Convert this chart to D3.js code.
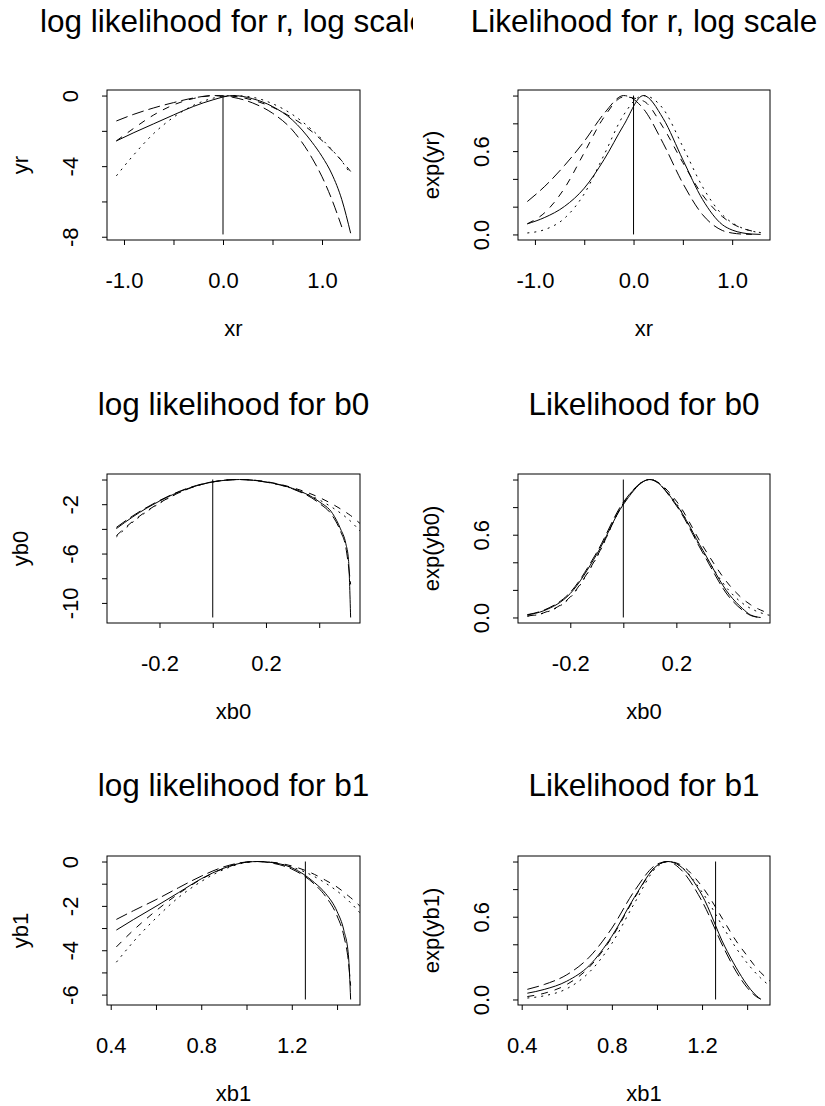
<!DOCTYPE html>
<html>
<head>
<meta charset="utf-8">
<script src="https://cdn.jsdelivr.net/npm/d3@7"></script>
<style>
  body { margin: 0; background: #fff; }
  svg { display: block; }
  text { font-family: "Liberation Sans", Arial, sans-serif; fill: #000; }
</style>
</head>
<body>
<svg id="chart" width="825" height="1106"></svg>
<script>
// ---- data: parameter r (log scale) ----
const xr = [-1.077, -0.9, -0.7, -0.5, -0.3, -0.1, 0.1, 0.3, 0.5, 0.7, 0.9, 1.0, 1.1, 1.2, 1.289];
const yr1 = [-2.57, -2.10, -1.60, -1.10, -0.62, -0.24, 0.0, -0.18, -0.62, -1.38, -2.65, -3.45, -4.45, -5.90, -7.80];
const yr2 = [-1.44, -1.06, -0.70, -0.40, -0.14, 0.0, -0.10, -0.42, -1.00, -1.95, -3.55, -4.60, -5.90, -7.45, null];
const yr3 = [-2.57, -1.85, -1.10, -0.53, -0.17, -0.01, -0.04, -0.26, -0.66, -1.26, -2.05, -2.55, -3.10, -3.70, -4.30];
const yr4 = [-4.55, -3.35, -2.15, -1.23, -0.56, -0.15, 0.0, -0.10, -0.46, -1.07, -1.95, -2.48, -3.07, -3.72, -4.45];

// ---- data: b0 ----
const xb0 = [-0.362, -0.3, -0.2, -0.1, 0.0, 0.1, 0.2, 0.3, 0.4, 0.45, 0.48, 0.5, 0.51, 0.518, 0.55, 0.58];
const yb01 = [-3.98, -3.02, -1.75, -0.78, -0.20, 0.0, -0.20, -0.72, -1.80, -2.75, -4.00, -5.20, -6.50, -11.18, null, null];
const yb02 = [-3.88, -2.94, -1.70, -0.75, -0.18, 0.0, -0.21, -0.76, -1.92, -2.95, -4.20, -5.50, -7.00, -8.50, null, null];
const yb03 = [-4.55, -3.38, -1.90, -0.82, -0.19, 0.0, -0.17, -0.66, -1.45, -2.00, -2.38, -2.65, -2.80, -2.92, -3.50, -4.05];
const yb04 = [-4.65, -3.45, -1.93, -0.83, -0.19, 0.0, -0.19, -0.74, -1.65, -2.28, -2.72, -3.05, -3.24, -3.38, -4.10, -4.75];

// ---- data: b1 ----
const xb1 = [0.425, 0.5, 0.6, 0.7, 0.8, 0.9, 1.0, 1.05, 1.1, 1.2, 1.3, 1.35, 1.4, 1.43, 1.45, 1.46, 1.5, 1.53];
const yb11 = [-3.09, -2.62, -2.02, -1.40, -0.78, -0.30, -0.03, 0.0, -0.03, -0.28, -0.95, -1.45, -2.25, -3.10, -4.20, -6.22, null, null];
const yb12 = [-2.61, -2.22, -1.72, -1.18, -0.66, -0.24, -0.02, 0.0, -0.05, -0.34, -1.02, -1.58, -2.45, -3.35, -4.50, -5.60, null, null];
const yb13 = [-3.85, -3.10, -2.22, -1.45, -0.80, -0.31, -0.03, 0.0, -0.02, -0.20, -0.58, -0.85, -1.15, -1.38, -1.55, -1.63, -2.00, -2.30];
const yb14 = [-4.54, -3.62, -2.55, -1.62, -0.90, -0.36, -0.04, 0.0, -0.03, -0.25, -0.68, -0.98, -1.33, -1.58, -1.76, -1.86, -2.30, -2.65];

// true values (vertical lines)
const trueVals = [0.0, 0.0, 1.26];

// axis limits (data ranges, R pads them by 4%)
const xrLim = [-1.077, 1.289], yrLim = [-7.87, 0];
const xb0Lim = [-0.362, 0.518], yb0Lim = [-11.18, 0];
const xb1Lim = [0.425, 1.46], yb1Lim = [-6.22, 0];
const likLim = [0, 1];

// ticks and tick labels
const xrTicks = [-1, -0.5, 0, 0.5, 1], xrLabels = ["-1.0", "", "0.0", "", "1.0"];
const xb0Ticks = [-0.2, 0, 0.2, 0.4], xb0Labels = ["-0.2", "", "0.2", ""];
const xb1Ticks = [0.4, 0.6, 0.8, 1.0, 1.2, 1.4], xb1Labels = ["0.4", "", "0.8", "", "1.2", ""];
const yrTicks = [-8, -6, -4, -2, 0], yrLabels = ["-8", "", "-4", "", "0"];
const yb0Ticks = [-10, -8, -6, -4, -2, 0], yb0Labels = ["-10", "", "-6", "", "-2", ""];
const yb1Ticks = [-6, -5, -4, -3, -2, -1, 0], yb1Labels = ["-6", "", "-4", "", "-2", "", "0"];
const likTicks = [0, 0.2, 0.4, 0.6, 0.8, 1.0], likLabels = ["0.0", "", "", "0.6", "", ""];

const dashes = [null, "12,5", "7,7", "2,5"];

// ---- layout ----
const svg = d3.select("#chart");
const colX = [[107, 360], [518, 770]];
const rowY = [[90, 240], [474, 623], [856, 1005]];
const titleY = [32, 415, 796];

const panels = [
  { row: 0, col: 0, x: xr, ys: [yr1, yr2, yr3, yr4], exp: false, xlim: xrLim, ylim: yrLim,
    xt: xrTicks, xl: xrLabels, yt: yrTicks, yl: yrLabels, v: trueVals[0],
    title: "log likelihood for r, log scale", xlab: "xr", ylab: "yr" },
  { row: 0, col: 1, x: xr, ys: [yr1, yr2, yr3, yr4], exp: true, xlim: xrLim, ylim: likLim,
    xt: xrTicks, xl: xrLabels, yt: likTicks, yl: likLabels, v: trueVals[0],
    title: "Likelihood for r, log scale", xlab: "xr", ylab: "exp(yr)" },
  { row: 1, col: 0, x: xb0, ys: [yb01, yb02, yb03, yb04], exp: false, xlim: xb0Lim, ylim: yb0Lim,
    xt: xb0Ticks, xl: xb0Labels, yt: yb0Ticks, yl: yb0Labels, v: trueVals[1],
    title: "log likelihood for b0", xlab: "xb0", ylab: "yb0" },
  { row: 1, col: 1, x: xb0, ys: [yb01, yb02, yb03, yb04], exp: true, xlim: xb0Lim, ylim: likLim,
    xt: xb0Ticks, xl: xb0Labels, yt: likTicks, yl: likLabels, v: trueVals[1],
    title: "Likelihood for b0", xlab: "xb0", ylab: "exp(yb0)" },
  { row: 2, col: 0, x: xb1, ys: [yb11, yb12, yb13, yb14], exp: false, xlim: xb1Lim, ylim: yb1Lim,
    xt: xb1Ticks, xl: xb1Labels, yt: yb1Ticks, yl: yb1Labels, v: trueVals[2],
    title: "log likelihood for b1", xlab: "xb1", ylab: "yb1" },
  { row: 2, col: 1, x: xb1, ys: [yb11, yb12, yb13, yb14], exp: true, xlim: xb1Lim, ylim: likLim,
    xt: xb1Ticks, xl: xb1Labels, yt: likTicks, yl: likLabels, v: trueVals[2],
    title: "Likelihood for b1", xlab: "xb1", ylab: "exp(yb1)" }
];

// R style: extend data range by 4% on each side
const pad = lim => { const d = (lim[1] - lim[0]) * 0.04; return [lim[0] - d, lim[1] + d]; };

const defs = svg.append("defs");
defs.append("clipPath").attr("id", "leftcol")
  .append("rect").attr("x", 0).attr("y", 0).attr("width", 413).attr("height", 1106);

panels.forEach((p, k) => {
  const [x0, x1] = colX[p.col];
  const [y0, y1] = rowY[p.row];
  const x = d3.scaleLinear().domain(pad(p.xlim)).range([x0, x1]);
  const y = d3.scaleLinear().domain(pad(p.ylim)).range([y1, y0]);
  const g = svg.append("g");

  const clipId = "clip" + k;
  defs.append("clipPath").attr("id", clipId)
    .append("rect").attr("x", x0).attr("y", y0).attr("width", x1 - x0).attr("height", y1 - y0);

  // curves
  const line = d3.line()
    .defined(d => d[1] !== null)
    .x(d => x(d[0]))
    .y(d => y(p.exp ? Math.exp(d[1]) : d[1]))
    .curve(d3.curveMonotoneX);
  const curves = g.append("g").attr("clip-path", `url(#${clipId})`);
  p.ys.forEach((ys, i) => {
    curves.append("path")
      .attr("d", line(p.x.map((xv, j) => [xv, ys[j]])))
      .attr("fill", "none")
      .attr("stroke", "#000")
      .attr("stroke-width", 1)
      .attr("stroke-dasharray", dashes[i]);
  });

  // true value line
  const vy = p.exp ? p.ylim : p.ylim;
  g.append("line")
    .attr("x1", x(p.v)).attr("x2", x(p.v))
    .attr("y1", y(vy[0])).attr("y2", y(vy[1]))
    .attr("stroke", "#000").attr("stroke-width", 1);

  // box
  g.append("rect")
    .attr("x", x0).attr("y", y0).attr("width", x1 - x0).attr("height", y1 - y0)
    .attr("fill", "none").attr("stroke", "#000").attr("stroke-width", 1);

  // x axis
  const xa = g.append("g").attr("transform", `translate(0,${y1})`)
    .call(d3.axisBottom(x).tickValues(p.xt).tickSize(5).tickFormat((d, i) => p.xl[i]));
  xa.select(".domain").remove();
  xa.selectAll("line").attr("stroke", "#000");
  xa.selectAll("text").attr("y", 48).attr("dy", null)
    .style("font-size", "22px").style("font-family", '"Liberation Sans", Arial, sans-serif');

  // y axis
  const ya = g.append("g").attr("transform", `translate(${x0},0)`)
    .call(d3.axisLeft(y).tickValues(p.yt).tickSize(5).tickFormat((d, i) => p.yl[i]));
  ya.select(".domain").remove();
  ya.selectAll("line").attr("stroke", "#000");
  ya.selectAll("text")
    .attr("x", 0).attr("y", -29).attr("dy", null)
    .attr("transform", "rotate(-90)")
    .attr("text-anchor", "middle")
    .style("font-size", "22px").style("font-family", '"Liberation Sans", Arial, sans-serif');

  // labels
  const cx = (x0 + x1) / 2, cy = (y0 + y1) / 2;
  g.append("text")
    .attr("x", cx).attr("y", y1 + 96)
    .attr("text-anchor", "middle").style("font-size", "22px")
    .text(p.xlab);
  g.append("text")
    .attr("transform", `translate(${x0 - 79},${cy}) rotate(-90)`)
    .attr("text-anchor", "middle").style("font-size", "22px")
    .text(p.ylab);

  const t = svg.append("text")
    .attr("x", cx).attr("y", titleY[p.row])
    .attr("text-anchor", "middle").style("font-size", "31.5px")
    .text(p.title);
  if (p.col === 0) t.attr("clip-path", "url(#leftcol)");
});
</script>
</body>
</html>
